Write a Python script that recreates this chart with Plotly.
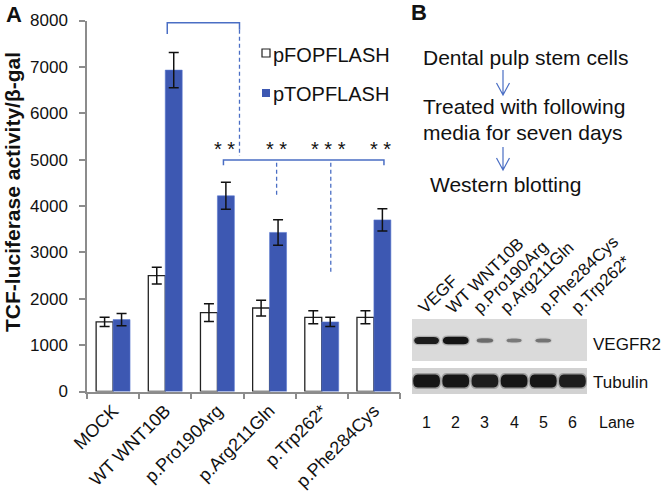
import plotly.graph_objects as go

# ---------------- data ----------------
categories = ["MOCK", "WT WNT10B", "p.Pro190Arg", "p.Arg211Gln", "p.Trp262*", "p.Phe284Cys"]
fop_values = [1500, 2500, 1700, 1800, 1600, 1600]
fop_errors = [100, 180, 190, 170, 140, 140]
top_values = [1550, 6930, 4220, 3430, 1500, 3700]
top_errors = [130, 380, 290, 275, 100, 240]
series_names = ["pFOPFLASH", "pTOPFLASH"]
y_ticks = [0, 1000, 2000, 3000, 4000, 5000, 6000, 7000, 8000]

sig_labels = ["* *", "* *", "* * *", "* *"]
sig_cats = [2, 3, 4, 5]  # compared groups (vs WT WNT10B)

flow_steps = ["Dental pulp stem cells", "Treated with following", "media for seven days", "Western blotting"]

lanes = [1, 2, 3, 4, 5, 6]
lane_labels = ["VEGF", "WT WNT10B", "p.Pro190Arg", "p.Arg211Gln", "p.Phe284Cys", "p.Trp262*"]
vegfr2_intensity = [0.92, 1.0, 0.28, 0.18, 0.22, 0.0]
tubulin_intensity = [1.0, 1.0, 0.95, 1.0, 1.0, 0.95]

W, H = 664, 502
BLUE = "#3D58B2"
LINE_BLUE = "#4A6EC4"
GREY = "#8C8C8C"
FONT = "Liberation Sans, Arial, sans-serif"


def px(x):
    return x / W


def py(y):
    return 1 - y / H


fig = go.Figure()
fig.add_trace(go.Bar(
    x=categories, y=fop_values, name=series_names[0],
    marker=dict(color="white", line=dict(color="#222222", width=1.3)),
    error_y=dict(type="data", array=fop_errors, color="#111111", thickness=1.5, width=5),
    showlegend=False,
))
fig.add_trace(go.Bar(
    x=categories, y=top_values, name=series_names[1],
    marker=dict(color=BLUE, line=dict(color="#5A78D0", width=0.6)),
    error_y=dict(type="data", array=top_errors, color="#111111", thickness=1.5, width=5),
    showlegend=False,
))

shapes = []
annotations = []

# ---- significance brackets (x in category index units) ----
def cat_x(pix):
    return (pix - 87) / 52.0 - 0.5

shapes.append(dict(type="path", xref="x", yref="y",
                   path=f"M{cat_x(167)},7710 L{cat_x(167)},7950 L{cat_x(239)},7950 L{cat_x(239)},7800",
                   line=dict(color=LINE_BLUE, width=1.5)))
shapes.append(dict(type="line", xref="x", yref="y", x0=cat_x(239), x1=cat_x(239), y0=7800, y1=5080,
                   line=dict(color=LINE_BLUE, width=1.3, dash="4px,3px")))
shapes.append(dict(type="path", xref="x", yref="y",
                   path=f"M{cat_x(223)},4880 L{cat_x(223)},4990 L{cat_x(383)},4990 L{cat_x(383)},4880",
                   line=dict(color=LINE_BLUE, width=1.5)))
shapes.append(dict(type="line", xref="x", yref="y", x0=cat_x(276), x1=cat_x(276), y0=4930, y1=4240,
                   line=dict(color=LINE_BLUE, width=1.3, dash="4px,3px")))
shapes.append(dict(type="line", xref="x", yref="y", x0=cat_x(330), x1=cat_x(330), y0=4930, y1=2580,
                   line=dict(color=LINE_BLUE, width=1.3, dash="4px,3px")))

for lab, c in zip(sig_labels, sig_cats):
    annotations.append(dict(x=c + 0.13, y=4950, xref="x", yref="y", text=lab, showarrow=False,
                            yanchor="bottom", font=dict(family=FONT, size=20, color="#111")))

# ---- custom legend ----
shapes.append(dict(type="rect", xref="paper", yref="paper", x0=px(262), x1=px(270), y0=py(57), y1=py(49),
                   fillcolor="white", line=dict(color="#222", width=1.2)))
shapes.append(dict(type="rect", xref="paper", yref="paper", x0=px(262), x1=px(270), y0=py(97), y1=py(89),
                   fillcolor=BLUE, line=dict(width=0)))
annotations.append(dict(x=px(271), y=py(55), xref="paper", yref="paper", text=series_names[0],
                        showarrow=False, xanchor="left", yanchor="middle",
                        font=dict(family=FONT, size=20, color="#111")))
annotations.append(dict(x=px(271), y=py(94), xref="paper", yref="paper", text=series_names[1],
                        showarrow=False, xanchor="left", yanchor="middle",
                        font=dict(family=FONT, size=20, color="#111")))

# ---- y axis title & panel labels ----
annotations.append(dict(x=px(12), y=py(192), xref="paper", yref="paper", xanchor="center", yanchor="middle",
                        text="<b>TCF-luciferase activity/β-gal</b>", textangle=-90, showarrow=False,
                        font=dict(family=FONT, size=21, color="#111")))
annotations.append(dict(x=px(4), y=py(15), xref="paper", yref="paper", text="<b>A</b>", showarrow=False,
                        xanchor="left", yanchor="middle", font=dict(family=FONT, size=22, color="#111")))
annotations.append(dict(x=px(409), y=py(13), xref="paper", yref="paper", text="<b>B</b>", showarrow=False,
                        xanchor="left", yanchor="middle", font=dict(family=FONT, size=22, color="#111")))

# ---- panel B flow ----
flow_pos = [(421, 57), (421, 106), (421, 132), (428, 184)]
for t, (x, y) in zip(flow_steps, flow_pos):
    annotations.append(dict(x=px(x), y=py(y), xref="paper", yref="paper", text=t, showarrow=False,
                            xanchor="left", yanchor="middle", font=dict(family=FONT, size=21, color="#111")))
for (y_top, y_tip) in [(70, 95), (147, 170)]:
    shapes.append(dict(type="path", xref="paper", yref="paper",
                       path=f"M{px(503)},{py(y_top)} L{px(503)},{py(y_tip)} M{px(496.5)},{py(y_tip-12)} "
                            f"L{px(503)},{py(y_tip)} L{px(509.5)},{py(y_tip-12)}",
                       line=dict(color=LINE_BLUE, width=1.2)))

# ---- western blot ----
shapes.append(dict(type="rect", xref="x2", yref="paper", x0=0.5, x1=6.5, y0=py(361), y1=py(319),
                   fillcolor="#dadada", line=dict(width=0), layer="below"))
shapes.append(dict(type="rect", xref="x2", yref="paper", x0=0.5, x1=6.5, y0=py(394), y1=py(368),
                   fillcolor="#d2d2d2", line=dict(width=0), layer="below"))


def pill(xc, half_w, yc_px, half_h_px, r_x):
    x0, x1 = xc - half_w, xc + half_w
    yt, yb = py(yc_px - half_h_px), py(yc_px + half_h_px)
    ym = py(yc_px)
    return (f"M{x0 + r_x},{yt} L{x1 - r_x},{yt} Q{x1},{yt} {x1},{ym} Q{x1},{yb} {x1 - r_x},{yb} "
            f"L{x0 + r_x},{yb} Q{x0},{yb} {x0},{ym} Q{x0},{yt} {x0 + r_x},{yt} Z")


for lane, a in zip(lanes, vegfr2_intensity):
    if a <= 0:
        continue
    hw = 0.22 + 0.22 * a
    hh = 1.6 + 2.2 * a
    shapes.append(dict(type="path", xref="x2", yref="paper", path=pill(lane, hw + 0.04, 340.5, hh + 1.2, 0.2),
                       fillcolor=f"rgba(40,40,40,{0.25 * a:.2f})", line=dict(width=0)))
    shapes.append(dict(type="path", xref="x2", yref="paper", path=pill(lane, hw, 340.5, hh, 0.18),
                       fillcolor=f"rgba(20,20,20,{min(1, 0.35 + 0.65 * a):.2f})", line=dict(width=0)))

for lane, a in zip(lanes, tubulin_intensity):
    shapes.append(dict(type="path", xref="x2", yref="paper", path=pill(lane, 0.5, 381, 8, 0.18),
                       fillcolor=f"rgba(60,60,60,{0.35 * a:.2f})", line=dict(width=0)))
    shapes.append(dict(type="path", xref="x2", yref="paper", path=pill(lane, 0.46, 381, 6.5, 0.16),
                       fillcolor=f"rgba(22,22,22,{a:.2f})", line=dict(width=0)))

lane_label_start = [419, 447, 474, 501, 540, 572]
for xs, lab in zip(lane_label_start, lane_labels):
    annotations.append(dict(x=px(xs - 7), y=py(320), xref="paper", yref="paper", text=lab, textangle=-44,
                            showarrow=False, xanchor="left", yanchor="bottom",
                            font=dict(family=FONT, size=17, color="#111")))

for lane in lanes:
    annotations.append(dict(x=lane, y=py(422), xref="x2", yref="paper", text=str(lane), showarrow=False,
                            yanchor="middle", font=dict(family=FONT, size=16, color="#111")))
annotations.append(dict(x=px(597), y=py(422), xref="paper", yref="paper", text="Lane", showarrow=False,
                        xanchor="left", yanchor="middle", font=dict(family=FONT, size=16, color="#111")))
annotations.append(dict(x=px(591), y=py(344), xref="paper", yref="paper", text="VEGFR2", showarrow=False,
                        xanchor="left", yanchor="middle", font=dict(family=FONT, size=17, color="#111")))
annotations.append(dict(x=px(591), y=py(382), xref="paper", yref="paper", text="Tubulin", showarrow=False,
                        xanchor="left", yanchor="middle", font=dict(family=FONT, size=17, color="#111")))

fig.update_layout(
    template="none",
    width=W, height=502,
    margin=dict(l=0, r=0, t=0, b=0, autoexpand=False),
    paper_bgcolor="white", plot_bgcolor="white",
    barmode="group", bargap=0.35, bargroupgap=0,
    font=dict(family=FONT, color="#111"),
    xaxis=dict(domain=[px(87), px(400)], type="category", categoryorder="array", categoryarray=categories,
               tickson="boundaries", ticks="outside", ticklen=6, tickcolor=GREY, tickwidth=1.5,
               showline=True, linecolor=GREY, linewidth=1.5, tickangle=-45, automargin=False,
               tickfont=dict(family=FONT, size=18, color="#111"), showgrid=False, range=[-0.5, 5.5]),
    yaxis=dict(domain=[py(391.5), py(20.5)], range=[0, 8000], tickvals=y_ticks, ticks="outside", ticklen=6,
               tickcolor=GREY, tickwidth=1.5, showline=True, linecolor=GREY, linewidth=1.5, automargin=False,
               tickfont=dict(family=FONT, size=17, color="#111"), showgrid=False, zeroline=False,
               ticklabelstandoff=8),
    xaxis2=dict(domain=[px(412), px(587)], range=[0.5, 6.5], visible=False, anchor="y2", automargin=False),
    yaxis2=dict(domain=[py(394), py(319)], range=[0, 1], visible=False, anchor="x2", automargin=False),
    shapes=shapes,
    annotations=annotations,
)

fig.write_html("out.html", config={"displayModeBar": False},
               post_script="document.body.style.margin='0';document.body.style.overflow='hidden';")
